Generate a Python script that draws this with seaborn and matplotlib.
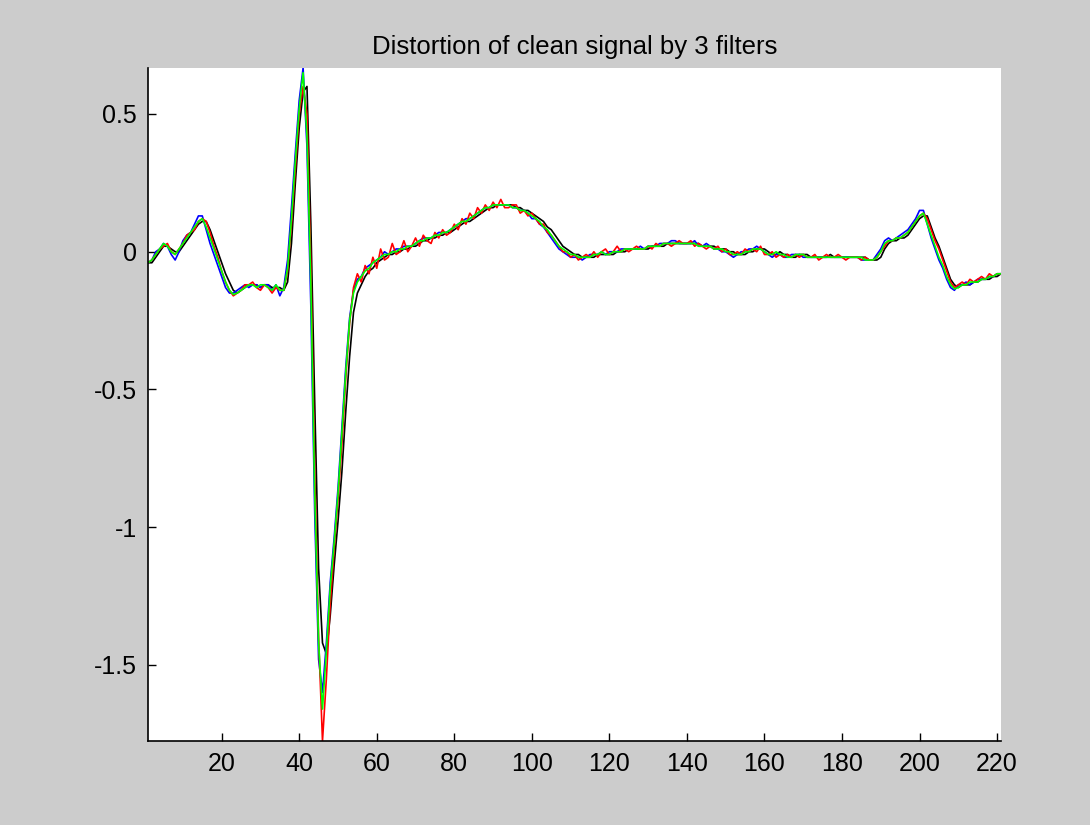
import numpy as np
import pandas as pd
import matplotlib
matplotlib.use("Agg")
import matplotlib.pyplot as plt
import seaborn as sns

# sample index
samples = list(range(1, 222))

# clean signal passed through the reference (black) and the 3 filters
black = [
    -0.04, -0.04, -0.02, 0.00, 0.02, 0.02, 0.01, 0.00, 0.00, 0.02,
    0.04, 0.06, 0.08, 0.10, 0.11, 0.11, 0.08, 0.04, 0.00, -0.04,
    -0.08, -0.11, -0.14, -0.15, -0.14, -0.13, -0.12, -0.12, -0.12, -0.13,
    -0.12, -0.12, -0.13, -0.13, -0.13, -0.14, -0.11, 0.03, 0.25, 0.45,
    0.58, 0.60, 0.10, -0.55, -1.15, -1.42, -1.46, -1.32, -1.14, -0.98,
    -0.80, -0.58, -0.38, -0.22, -0.15, -0.12, -0.09, -0.07, -0.06, -0.04,
    -0.03, -0.02, -0.01, -0.01, 0.00, 0.00, 0.01, 0.01, 0.02, 0.02,
    0.03, 0.04, 0.04, 0.05, 0.05, 0.06, 0.06, 0.07, 0.07, 0.08,
    0.09, 0.10, 0.11, 0.11, 0.12, 0.13, 0.14, 0.15, 0.16, 0.16,
    0.17, 0.17, 0.17, 0.17, 0.17, 0.16, 0.16, 0.15, 0.15, 0.14,
    0.13, 0.12, 0.11, 0.09, 0.08, 0.06, 0.04, 0.02, 0.01, 0.00,
    -0.01, -0.01, -0.02, -0.02, -0.02, -0.02, -0.01, -0.01, -0.01, -0.01,
    -0.01, 0.00, 0.00, 0.00, 0.01, 0.01, 0.01, 0.01, 0.01, 0.01,
    0.02, 0.02, 0.02, 0.02, 0.03, 0.03, 0.03, 0.03, 0.03, 0.03,
    0.03, 0.03, 0.03, 0.02, 0.02, 0.02, 0.02, 0.01, 0.01, 0.01,
    0.00, 0.00, -0.01, -0.01, -0.01, 0.00, 0.00, 0.01, 0.01, 0.01,
    0.00, -0.01, -0.01, 0.00, -0.01, -0.01, -0.02, -0.02, -0.01, -0.01,
    -0.01, -0.02, -0.02, -0.02, -0.02, -0.02, -0.01, -0.02, -0.02, -0.02,
    -0.02, -0.02, -0.02, -0.02, -0.02, -0.02, -0.03, -0.03, -0.03, -0.02,
    0.01, 0.03, 0.04, 0.04, 0.05, 0.05, 0.06, 0.08, 0.10, 0.12,
    0.13, 0.13, 0.09, 0.05, 0.02, -0.02, -0.06, -0.10, -0.12, -0.13,
    -0.12, -0.12, -0.12, -0.11, -0.11, -0.10, -0.10, -0.10, -0.09, -0.09,
    -0.08,
]

blue = [
    -0.04, -0.03, 0.00, 0.01, 0.03, 0.02, -0.01, -0.03, 0.00, 0.04,
    0.06, 0.07, 0.10, 0.13, 0.13, 0.08, 0.03, -0.01, -0.05, -0.09,
    -0.13, -0.15, -0.15, -0.14, -0.13, -0.12, -0.13, -0.12, -0.12, -0.13,
    -0.12, -0.12, -0.14, -0.12, -0.16, -0.13, -0.03, 0.16, 0.36, 0.55,
    0.667, 0.38, -0.20, -0.95, -1.48, -1.60, -1.42, -1.20, -1.04, -0.86,
    -0.64, -0.42, -0.24, -0.14, -0.10, -0.09, -0.06, -0.05, -0.04, -0.03,
    -0.02, 0.00, -0.01, 0.00, 0.01, 0.01, 0.02, 0.02, 0.02, 0.03,
    0.04, 0.05, 0.05, 0.05, 0.06, 0.07, 0.07, 0.07, 0.08, 0.09,
    0.10, 0.11, 0.12, 0.12, 0.13, 0.14, 0.15, 0.16, 0.16, 0.17,
    0.17, 0.17, 0.17, 0.17, 0.16, 0.16, 0.15, 0.15, 0.14, 0.12,
    0.12, 0.10, 0.09, 0.07, 0.05, 0.03, 0.01, 0.00, -0.01, -0.02,
    -0.02, -0.02, -0.03, -0.02, -0.01, -0.01, -0.01, 0.00, -0.01, 0.00,
    0.00, 0.00, 0.01, 0.01, 0.01, 0.01, 0.01, 0.02, 0.01, 0.02,
    0.02, 0.02, 0.03, 0.03, 0.03, 0.04, 0.04, 0.03, 0.03, 0.03,
    0.03, 0.04, 0.02, 0.02, 0.03, 0.02, 0.01, 0.01, 0.00, 0.00,
    -0.01, -0.02, -0.01, 0.00, 0.00, 0.01, 0.01, 0.02, 0.01, 0.00,
    -0.01, -0.02, -0.01, -0.01, -0.02, -0.02, -0.01, -0.01, -0.01, -0.02,
    -0.02, -0.02, -0.02, -0.02, -0.02, -0.02, -0.02, -0.02, -0.02, -0.02,
    -0.02, -0.02, -0.02, -0.02, -0.03, -0.03, -0.03, -0.03, -0.01, 0.01,
    0.04, 0.05, 0.04, 0.05, 0.06, 0.07, 0.08, 0.10, 0.12, 0.15,
    0.15, 0.10, 0.05, 0.01, -0.03, -0.06, -0.10, -0.13, -0.14, -0.12,
    -0.12, -0.11, -0.12, -0.11, -0.10, -0.10, -0.10, -0.09, -0.09, -0.08,
    -0.08,
]

red = [
    -0.04, -0.03, -0.01, 0.01, 0.02, 0.03, 0.00, -0.01, 0.01, 0.03,
    0.06, 0.07, 0.08, 0.11, 0.12, 0.11, 0.07, 0.02, -0.02, -0.07,
    -0.11, -0.14, -0.16, -0.15, -0.14, -0.12, -0.12, -0.11, -0.13, -0.14,
    -0.12, -0.13, -0.15, -0.13, -0.14, -0.14, -0.07, 0.10, 0.30, 0.50,
    0.60, 0.50, -0.05, -0.80, -1.40, -1.776, -1.55, -1.28, -1.08, -0.90,
    -0.70, -0.46, -0.26, -0.13, -0.08, -0.11, -0.05, -0.08, -0.02, -0.06,
    0.01, -0.03, -0.02, 0.03, -0.01, 0.00, 0.04, 0.00, 0.02, 0.05,
    0.02, 0.06, 0.04, 0.03, 0.07, 0.05, 0.08, 0.06, 0.07, 0.10,
    0.08, 0.12, 0.10, 0.14, 0.12, 0.16, 0.14, 0.17, 0.15, 0.18,
    0.16, 0.19, 0.16, 0.16, 0.17, 0.17, 0.14, 0.15, 0.13, 0.14,
    0.12, 0.10, 0.10, 0.07, 0.06, 0.04, 0.02, 0.00, 0.00, -0.02,
    -0.01, -0.03, -0.02, -0.01, -0.02, 0.00, -0.02, 0.00, 0.01, -0.01,
    0.00, 0.02, 0.00, 0.01, 0.00, 0.01, 0.02, 0.01, 0.01, 0.02,
    0.01, 0.03, 0.02, 0.03, 0.03, 0.02, 0.03, 0.04, 0.03, 0.03,
    0.04, 0.02, 0.03, 0.02, 0.01, 0.02, 0.01, 0.02, 0.00, 0.01,
    -0.01, -0.01, 0.00, -0.01, 0.01, 0.00, 0.01, 0.00, 0.02, -0.01,
    -0.01, 0.00, -0.02, -0.01, -0.02, -0.01, -0.02, -0.01, -0.02, -0.01,
    -0.02, -0.02, -0.01, -0.03, -0.02, -0.01, -0.02, -0.02, -0.01, -0.02,
    -0.03, -0.02, -0.02, -0.02, -0.03, -0.02, -0.03, -0.03, -0.02, 0.00,
    0.02, 0.04, 0.04, 0.05, 0.05, 0.06, 0.07, 0.09, 0.11, 0.13,
    0.14, 0.12, 0.08, 0.04, 0.01, -0.03, -0.07, -0.11, -0.13, -0.12,
    -0.11, -0.12, -0.10, -0.11, -0.10, -0.09, -0.10, -0.08, -0.09, -0.08,
    -0.08,
]

green = [
    -0.04, -0.03, -0.01, 0.01, 0.03, 0.02, 0.00, -0.01, 0.01, 0.03,
    0.05, 0.07, 0.09, 0.11, 0.12, 0.09, 0.05, 0.01, -0.03, -0.07,
    -0.11, -0.14, -0.155, -0.15, -0.14, -0.13, -0.12, -0.12, -0.13, -0.12,
    -0.12, -0.13, -0.14, -0.12, -0.14, -0.14, -0.06, 0.12, 0.33, 0.52,
    0.65, 0.42, -0.12, -0.88, -1.42, -1.66, -1.45, -1.22, -1.06, -0.88,
    -0.66, -0.44, -0.25, -0.15, -0.11, -0.09, -0.07, -0.06, -0.04, -0.03,
    -0.02, -0.01, -0.01, 0.00, 0.00, 0.01, 0.01, 0.02, 0.02, 0.03,
    0.04, 0.04, 0.05, 0.05, 0.06, 0.06, 0.07, 0.07, 0.08, 0.09,
    0.10, 0.11, 0.11, 0.12, 0.13, 0.14, 0.15, 0.16, 0.16, 0.17,
    0.17, 0.17, 0.17, 0.17, 0.16, 0.16, 0.15, 0.15, 0.14, 0.13,
    0.12, 0.11, 0.09, 0.08, 0.06, 0.04, 0.02, 0.01, 0.00, -0.01,
    -0.01, -0.02, -0.02, -0.02, -0.02, -0.01, -0.01, 0.00, -0.01, -0.01,
    0.00, 0.00, 0.00, 0.01, 0.01, 0.01, 0.01, 0.01, 0.01, 0.02,
    0.02, 0.02, 0.02, 0.03, 0.03, 0.03, 0.03, 0.03, 0.03, 0.03,
    0.03, 0.03, 0.02, 0.02, 0.02, 0.02, 0.01, 0.01, 0.01, 0.00,
    0.00, -0.01, -0.01, -0.01, 0.00, 0.00, 0.01, 0.01, 0.01, 0.00,
    -0.01, -0.01, 0.00, -0.01, -0.01, -0.02, -0.02, -0.01, -0.01, -0.01,
    -0.02, -0.02, -0.02, -0.02, -0.02, -0.02, -0.02, -0.02, -0.02, -0.02,
    -0.02, -0.02, -0.02, -0.02, -0.02, -0.03, -0.03, -0.03, -0.02, 0.00,
    0.03, 0.04, 0.04, 0.05, 0.05, 0.06, 0.07, 0.09, 0.11, 0.13,
    0.14, 0.10, 0.06, 0.02, -0.02, -0.05, -0.09, -0.12, -0.135, -0.13,
    -0.12, -0.12, -0.11, -0.11, -0.11, -0.10, -0.10, -0.09, -0.09, -0.08,
    -0.08,
]

series_names = ["black", "blue", "red", "green"]
series_colors = ["#000000", "#0000ff", "#ff0000", "#00ff00"]

df = pd.concat(
    [
        pd.DataFrame({"sample": samples, "value": vals, "filter": name})
        for name, vals in zip(series_names, [black, blue, red, green])
    ],
    ignore_index=True,
)

plt.rcParams["font.family"] = ["Liberation Sans", "DejaVu Sans"]
plt.rcParams["axes.unicode_minus"] = False

fig = plt.figure(figsize=(10.9, 8.25), dpi=100, facecolor="#cccccc")
ax = fig.add_axes([0.1358, 0.1018, 0.7825, 0.8158])
ax.set_facecolor("white")

sns.lineplot(
    data=df,
    x="sample",
    y="value",
    hue="filter",
    hue_order=series_names,
    palette=series_colors,
    legend=False,
    linewidth=1.2,
    ax=ax,
)

ax.set_xlim(1, 221)
ax.set_ylim(df["value"].min(), df["value"].max())
ax.set_xticks(range(20, 221, 20))
ax.set_yticks([-1.5, -1, -0.5, 0, 0.5])
ax.yaxis.set_major_formatter(matplotlib.ticker.FormatStrFormatter("%g"))
ax.set_xlabel("")
ax.set_ylabel("")
ax.set_title("Distortion of clean signal by 3 filters", fontsize=18.5, pad=10)

for side in ["top", "right"]:
    ax.spines[side].set_visible(False)
for side in ["left", "bottom"]:
    ax.spines[side].set_linewidth(1.2)
    ax.spines[side].set_color("black")
ax.tick_params(direction="in", length=6, width=1, labelsize=18, pad=8)

fig.savefig("out.png", dpi=100, facecolor=fig.get_facecolor())
